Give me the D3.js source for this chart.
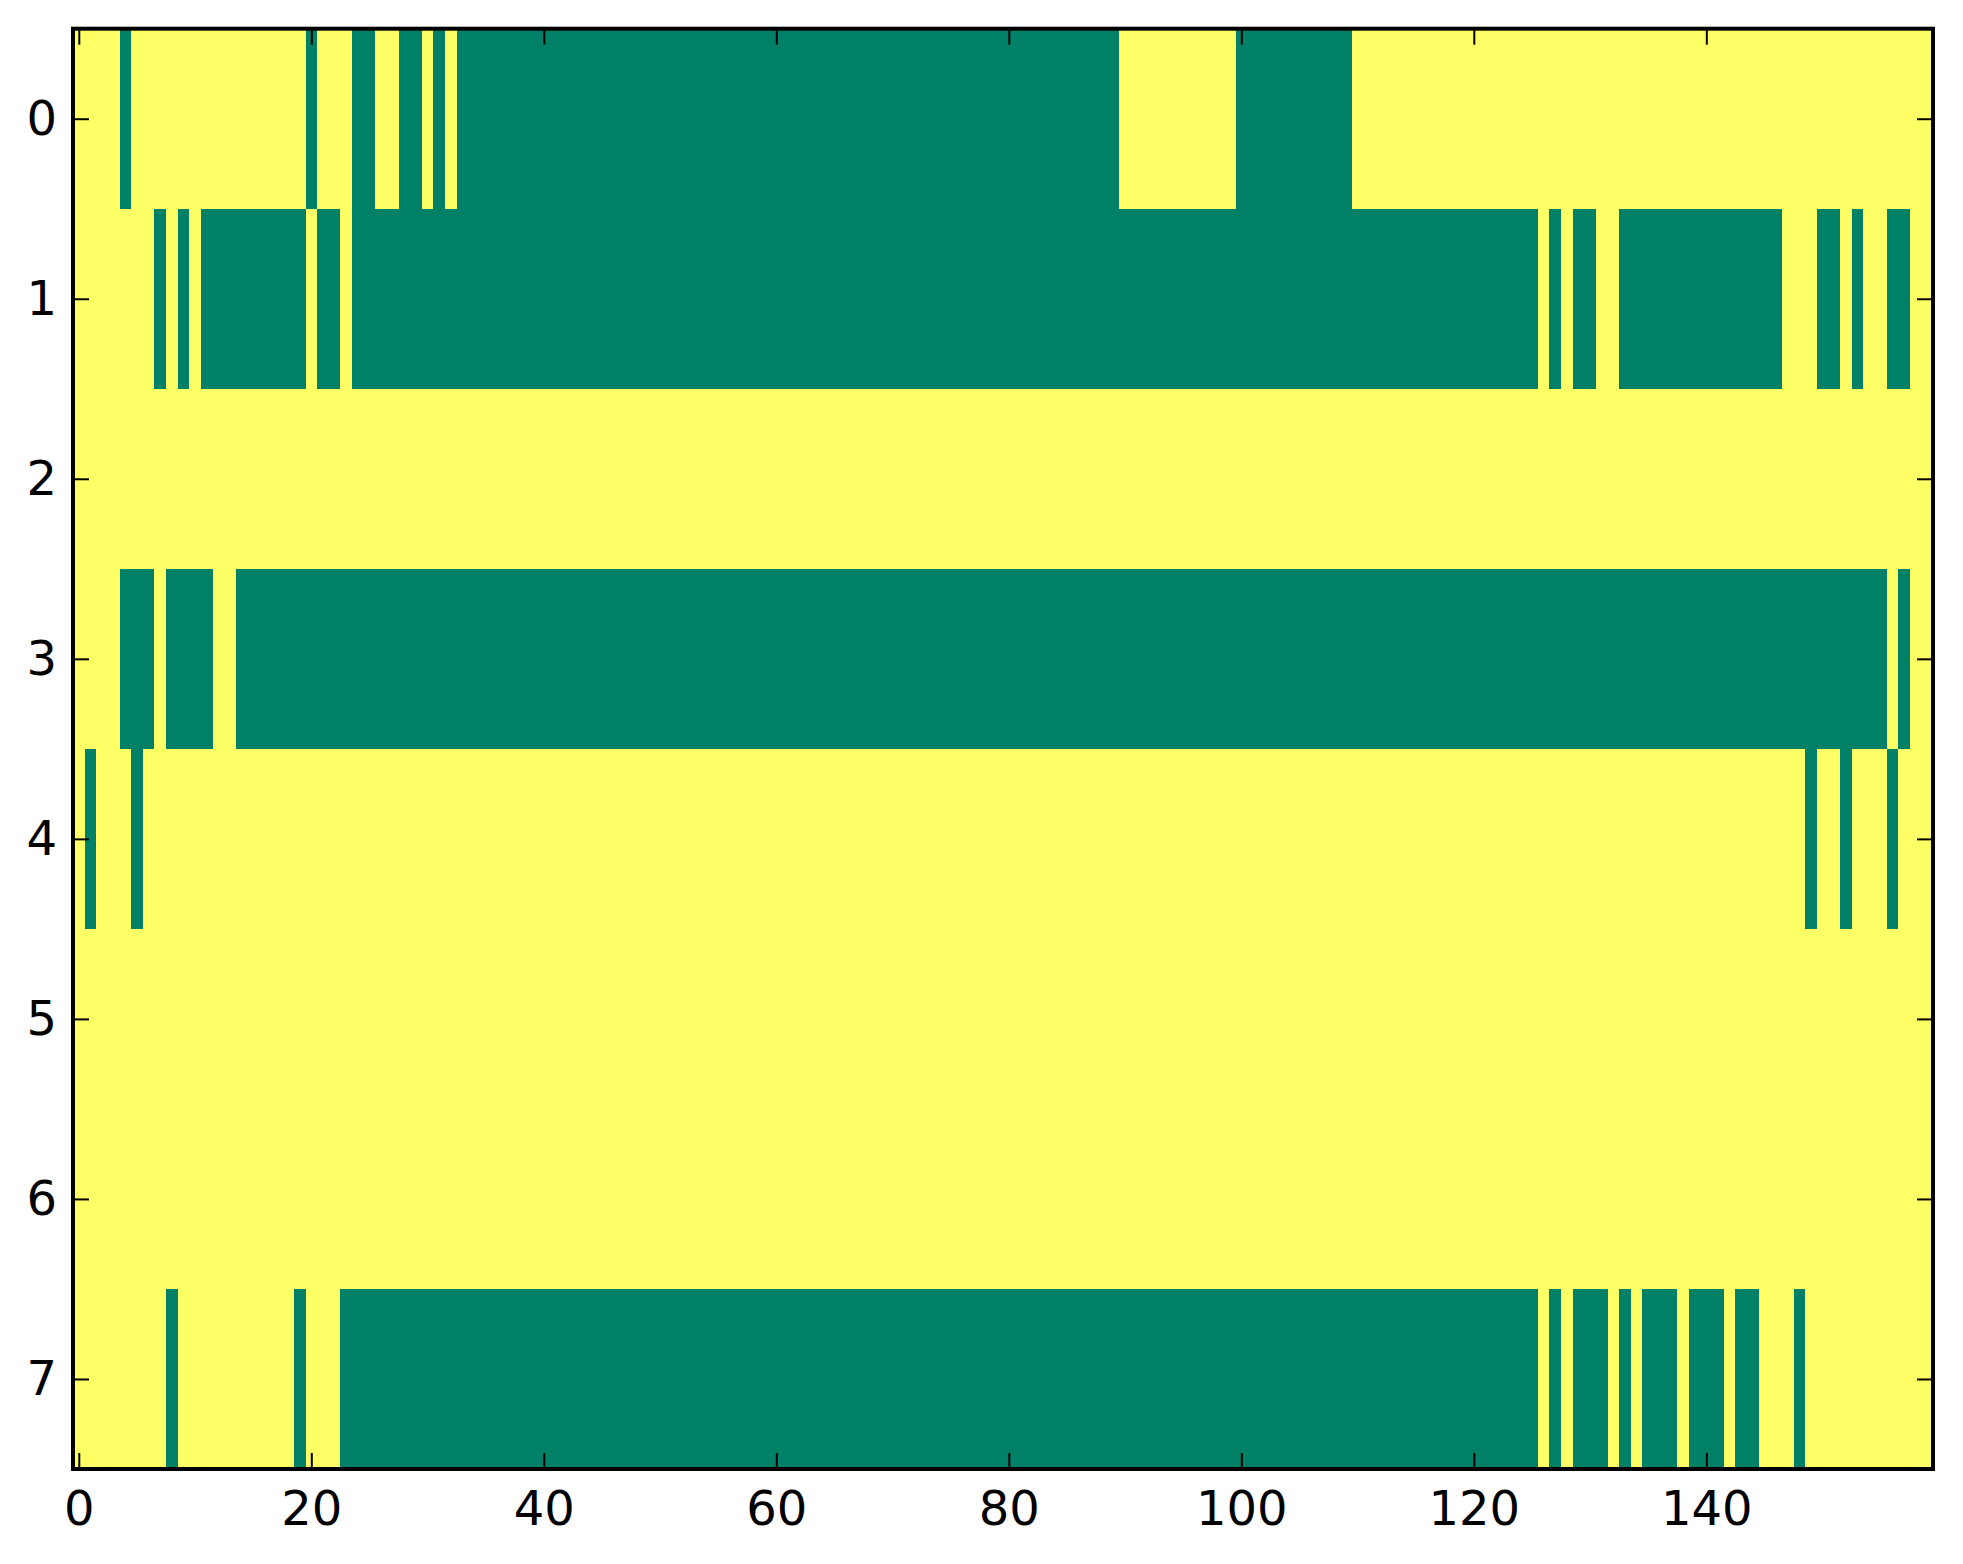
<!DOCTYPE html>
<html>
<head>
<meta charset="utf-8">
<script src="https://cdn.jsdelivr.net/npm/d3@7"></script>
<style>
  body { margin: 0; background: #fff; }
  svg { display: block; }
</style>
</head>
<body>
<div id="chart"></div>
<script>
// grid size and tick labels
const nCols = 160;
const rowIds = [0, 1, 2, 3, 4, 5, 6, 7];
const xTicks = [0, 20, 40, 60, 80, 100, 120, 140];

// columns holding 0 in each row, as [first, last] runs; every other cell is 1
const row0 = [[4, 4], [20, 20], [24, 25], [28, 29], [31, 31], [33, 89], [100, 109]];
const row1 = [[7, 7], [9, 9], [11, 19], [21, 22], [24, 125], [127, 127], [129, 130], [133, 146], [150, 151], [153, 153], [156, 157]];
const row2 = [];
const row3 = [[4, 6], [8, 11], [14, 155], [157, 157]];
const row4 = [[1, 1], [5, 5], [149, 149], [152, 152], [156, 156]];
const row5 = [];
const row6 = [];
const row7 = [[8, 8], [19, 19], [23, 125], [127, 127], [129, 131], [133, 133], [135, 137], [139, 141], [143, 144], [148, 148]];

const zeroRuns = [row0, row1, row2, row3, row4, row5, row6, row7];

const cells = [];
rowIds.forEach((r, i) => {
  for (let c = 0; c < nCols; c++) {
    const isZero = zeroRuns[i].some(([a, b]) => c >= a && c <= b);
    cells.push({ row: r, col: c, value: isZero ? 0 : 1 });
  }
});

const W = 1963, H = 1564;
const margin = { left: 73, right: 1933, top: 28.7, bottom: 1469 };

const svg = d3.select("#chart")
  .append("svg")
  .attr("width", W)
  .attr("height", H);

const x = d3.scaleLinear().domain([-0.5, nCols - 0.5]).range([margin.left, margin.right]);
const y = d3.scaleLinear().domain([-0.5, rowIds.length - 0.5]).range([margin.top, margin.bottom]);
const color = d3.scaleLinear().domain([0, 1]).range(["#008066", "#ffff66"]);

svg.append("g")
  .attr("shape-rendering", "crispEdges")
  .selectAll("rect")
  .data(cells)
  .enter().append("rect")
  .attr("x", d => x(d.col - 0.5))
  .attr("y", d => y(d.row - 0.5))
  .attr("width", d => x(d.col + 0.5) - x(d.col - 0.5))
  .attr("height", d => y(d.row + 0.5) - y(d.row - 0.5))
  .attr("fill", d => color(d.value));

const font = "DejaVu Sans, sans-serif";

function styleAxis(g, showLabels) {
  g.select(".domain").remove();
  g.selectAll(".tick line").attr("stroke", "#000").attr("stroke-width", 2);
  g.selectAll(".tick text")
    .attr("font-family", font)
    .attr("font-size", 48)
    .attr("fill", "#000");
  if (!showLabels) g.selectAll(".tick text").remove();
}

svg.append("g")
  .attr("transform", `translate(0,${margin.bottom})`)
  .call(d3.axisBottom(x).tickValues(xTicks).tickFormat(d3.format("d"))
    .tickSizeInner(-16).tickSizeOuter(0).tickPadding(22))
  .call(g => styleAxis(g, true));

svg.append("g")
  .attr("transform", `translate(0,${margin.top})`)
  .call(d3.axisTop(x).tickValues(xTicks).tickSizeInner(-16).tickSizeOuter(0))
  .call(g => styleAxis(g, false));

svg.append("g")
  .attr("transform", `translate(${margin.left},0)`)
  .call(d3.axisLeft(y).tickValues(rowIds).tickFormat(d3.format("d"))
    .tickSizeInner(-16).tickSizeOuter(0).tickPadding(16))
  .call(g => styleAxis(g, true));

svg.append("g")
  .attr("transform", `translate(${margin.right},0)`)
  .call(d3.axisRight(y).tickValues(rowIds).tickSizeInner(-16).tickSizeOuter(0))
  .call(g => styleAxis(g, false));

// axes frame
svg.append("rect")
  .attr("x", margin.left)
  .attr("y", margin.top)
  .attr("width", margin.right - margin.left)
  .attr("height", margin.bottom - margin.top)
  .attr("fill", "none")
  .attr("stroke", "#000")
  .attr("stroke-width", 4);
</script>
</body>
</html>
